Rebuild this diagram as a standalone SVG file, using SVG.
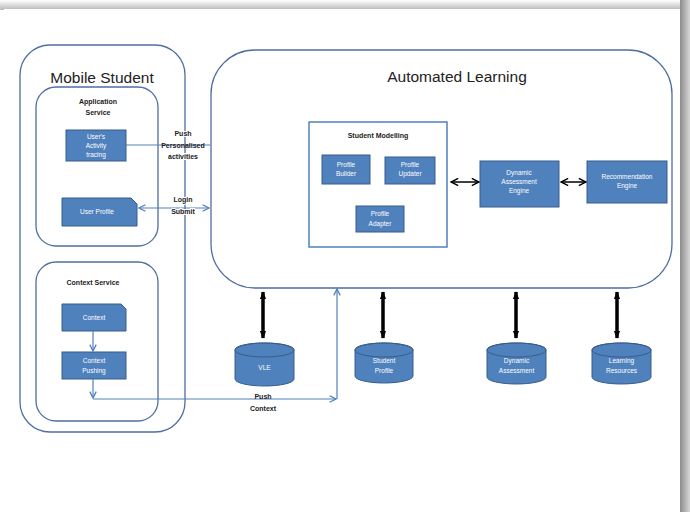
<svg xmlns="http://www.w3.org/2000/svg" width="690" height="512" viewBox="0 0 690 512">
<defs>
<linearGradient id="topShadow" x1="0" y1="0" x2="0" y2="1">
<stop offset="0" stop-color="#ffffff"/>
<stop offset="1" stop-color="#b8b8b8"/>
</linearGradient>
<linearGradient id="rightShadow" x1="0" y1="0" x2="1" y2="0">
<stop offset="0" stop-color="#8c8c8c"/>
<stop offset="1" stop-color="#d8d8d8"/>
</linearGradient>
<marker id="blueArrow" viewBox="0 0 10 10" refX="9" refY="5" markerWidth="8" markerHeight="8" markerUnits="userSpaceOnUse" orient="auto-start-reverse">
<path d="M1,1 L9,5 L1,9" fill="none" stroke="#4F81BD" stroke-width="1.6"/>
</marker>
<marker id="blackArrow" viewBox="0 0 10 10" refX="9" refY="5" markerWidth="9" markerHeight="9" markerUnits="userSpaceOnUse" orient="auto-start-reverse">
<path d="M1,1 L9,5 L1,9" fill="none" stroke="#000" stroke-width="1.6"/>
</marker>
<marker id="thickArrow" viewBox="0 0 10 10" refX="9" refY="5" markerWidth="8" markerHeight="8" markerUnits="userSpaceOnUse" orient="auto-start-reverse">
<path d="M0,1 L10,5 L0,9 Z" fill="#000"/>
</marker>
<style>
.cont { fill: #fff; stroke: #4F6FA0; stroke-width: 1.3; }
.box { fill: #4F81BD; stroke: #385D8A; stroke-width: 1; }
.wt { fill: #fff; font-family: "Liberation Sans", Arial, sans-serif; font-size: 6.5px; text-anchor: middle; }
.lbl { fill: #222; font-family: "Liberation Sans", Arial, sans-serif; font-size: 7px; text-anchor: middle; font-weight: bold; }
.halo { paint-order: stroke; stroke: #fff; stroke-width: 2px; }
.title { fill: #222; font-family: "Liberation Sans", Arial, sans-serif; font-size: 15.5px; text-anchor: middle; }
.bl { fill: none; stroke: #4F81BD; stroke-width: 1.2; }
.bk { fill: none; stroke: #000; stroke-width: 1.5; }
.thick { fill: none; stroke: #000; stroke-width: 3.5; }
</style>
</defs>

<rect x="0" y="0" width="690" height="512" fill="#ffffff"/>
<rect x="0" y="0" width="690" height="10" fill="url(#topShadow)"/>
<rect x="680" y="0" width="10" height="512" fill="url(#rightShadow)"/>
<rect x="4" y="9" width="676" height="503" fill="#ffffff"/>

<g id="mobile-student">
<rect class="cont" x="20" y="45" width="165" height="387" rx="30"/>
<text class="title" x="102" y="83" font-size="16">Mobile Student</text>
</g>

<g id="application-service">
<rect class="cont" x="36" y="87" width="122" height="159" rx="20"/>
<text class="lbl" x="98" y="104">Application</text>
<text class="lbl" x="98" y="115">Service</text>
</g>

<g id="users-activity-tracing">
<rect class="box" x="66" y="130" width="60" height="31"/>
<text class="wt" x="96" y="139">User's</text>
<text class="wt" x="96" y="148">Activity</text>
<text class="wt" x="96" y="157">tracing</text>
</g>

<g id="user-profile">
<path class="box" d="M62,198 H131 L137,204 V226 H62 Z"/>
<text class="wt" x="97" y="214">User Profile</text>
</g>

<g id="context-service">
<rect class="cont" x="36" y="262" width="122" height="159" rx="20"/>
<text class="lbl" x="93" y="285">Context Service</text>
</g>

<g id="context">
<path class="box" d="M62,304 H121 L126,309 V331 H62 Z"/>
<text class="wt" x="94" y="320">Context</text>
</g>

<g id="context-pushing">
<rect class="box" x="62" y="352" width="64" height="27"/>
<text class="wt" x="94" y="363">Context</text>
<text class="wt" x="94" y="373">Pushing</text>
</g>

<g id="automated-learning">
<rect class="cont" x="211" y="50" width="461" height="238" rx="44"/>
<text class="title" x="457" y="82">Automated Learning</text>
</g>

<g id="student-modelling">
<rect x="309" y="122" width="138" height="125" fill="#fff" stroke="#4F81BD" stroke-width="1.5"/>
<text class="lbl" x="378" y="138">Student Modelling</text>
</g>

<g id="profile-builder">
<rect class="box" x="322" y="155" width="48" height="29"/>
<text class="wt" x="346" y="167">Profile</text>
<text class="wt" x="346" y="176">Builder</text>
</g>

<g id="profile-updater">
<rect class="box" x="385" y="157" width="50" height="27"/>
<text class="wt" x="410" y="167">Profile</text>
<text class="wt" x="410" y="176">Updater</text>
</g>

<g id="profile-adapter">
<rect class="box" x="356" y="206" width="48" height="26"/>
<text class="wt" x="380" y="216">Profile</text>
<text class="wt" x="380" y="226">Adapter</text>
</g>

<g id="dynamic-assessment-engine">
<rect class="box" x="480" y="161" width="79" height="46"/>
<text class="wt" x="519" y="175">Dynamic</text>
<text class="wt" x="519" y="184">Assessment</text>
<text class="wt" x="519" y="193">Engine</text>
</g>

<g id="recommendation-engine">
<rect class="box" x="587" y="161" width="80" height="42"/>
<text class="wt" x="627" y="179">Recommendation</text>
<text class="wt" x="627" y="188">Engine</text>
</g>

<g id="vle">
<path class="box" d="M235,350 A29.5,7 0 0 1 294,350 V379 A29.5,7 0 0 1 235,379 Z"/>
<ellipse cx="264.5" cy="350" rx="29.5" ry="7" fill="none" stroke="#385D8A" stroke-width="1"/>
<text class="wt" x="264.5" y="370">VLE</text>
</g>

<g id="student-profile">
<path class="box" d="M355,350 A29,7 0 0 1 413,350 V376 A29,7 0 0 1 355,376 Z"/>
<ellipse cx="384" cy="350" rx="29" ry="7" fill="none" stroke="#385D8A" stroke-width="1"/>
<text class="wt" x="384" y="363">Student</text>
<text class="wt" x="384" y="373">Profile</text>
</g>

<g id="dynamic-assessment">
<path class="box" d="M487,350 A29.5,7 0 0 1 546,350 V377 A29.5,7 0 0 1 487,377 Z"/>
<ellipse cx="516.5" cy="350" rx="29.5" ry="7" fill="none" stroke="#385D8A" stroke-width="1"/>
<text class="wt" x="516.5" y="363">Dynamic</text>
<text class="wt" x="516.5" y="373">Assessment</text>
</g>

<g id="learning-resources">
<path class="box" d="M592,350 A29.5,7 0 0 1 651,350 V377 A29.5,7 0 0 1 592,377 Z"/>
<ellipse cx="621.5" cy="350" rx="29.5" ry="7" fill="none" stroke="#385D8A" stroke-width="1"/>
<text class="wt" x="621.5" y="363">Learning</text>
<text class="wt" x="621.5" y="373">Resources</text>
</g>

<g id="connectors">
<line class="bl" x1="126" y1="145" x2="210" y2="145"/>
<line class="bl" x1="139" y1="208" x2="209" y2="208" marker-start="url(#blueArrow)" marker-end="url(#blueArrow)"/>
<line class="bl" x1="93" y1="331" x2="93" y2="351" marker-end="url(#blueArrow)"/>
<line class="bl" x1="93" y1="379" x2="93" y2="398" marker-end="url(#blueArrow)"/>
<line class="bl" x1="93" y1="399" x2="336" y2="399" marker-end="url(#blueArrow)"/>
<line class="bl" x1="337" y1="399" x2="337" y2="289" marker-end="url(#blueArrow)"/>
<line class="bk" x1="451" y1="182" x2="479" y2="182" marker-start="url(#blackArrow)" marker-end="url(#blackArrow)"/>
<line class="bk" x1="561" y1="182" x2="586" y2="182" marker-start="url(#blackArrow)" marker-end="url(#blackArrow)"/>
<line class="thick" x1="263" y1="292" x2="263" y2="338" marker-start="url(#thickArrow)" marker-end="url(#thickArrow)"/>
<line class="thick" x1="383" y1="292" x2="383" y2="338" marker-start="url(#thickArrow)" marker-end="url(#thickArrow)"/>
<line class="thick" x1="516" y1="292" x2="516" y2="338" marker-start="url(#thickArrow)" marker-end="url(#thickArrow)"/>
<line class="thick" x1="617" y1="292" x2="617" y2="338" marker-start="url(#thickArrow)" marker-end="url(#thickArrow)"/>
<text class="lbl halo" x="183" y="136">Push</text>
<text class="lbl" x="183" y="148">Personalised</text>
<text class="lbl halo" x="183" y="159">activities</text>
<text class="lbl halo" x="183" y="202">Login</text>
<text class="lbl halo" x="183" y="214">Submit</text>
<text class="lbl" x="263" y="399">Push</text>
<text class="lbl" x="263" y="411">Context</text>
</g>
</svg>
